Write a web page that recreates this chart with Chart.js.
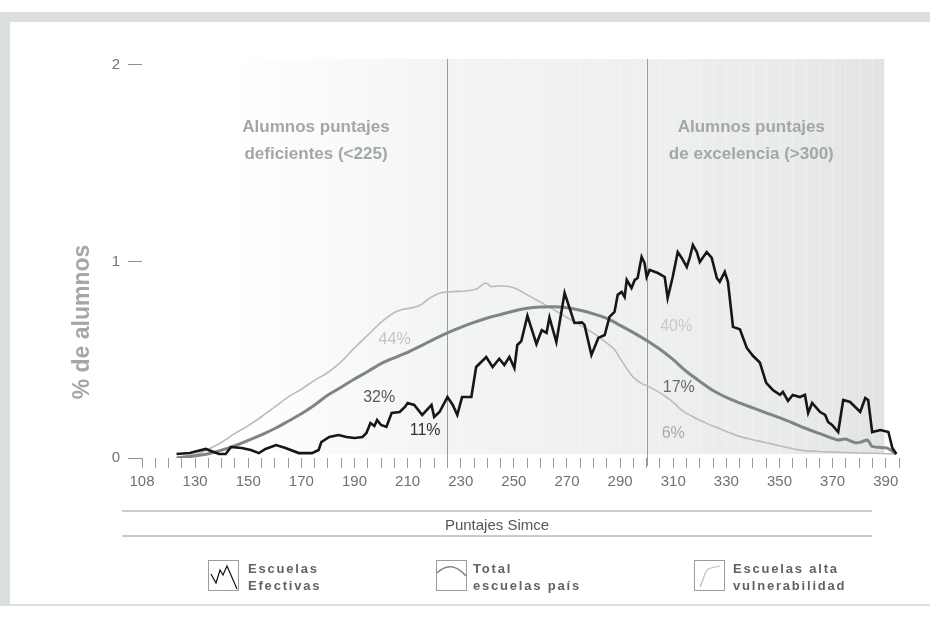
<!DOCTYPE html>
<html>
<head>
<meta charset="utf-8">
<script src="https://cdn.jsdelivr.net/npm/chart.js@4.4.1/dist/chart.umd.min.js"></script>
<style>
  html, body { margin: 0; padding: 0; background: #fff; }
  body { width: 930px; height: 628px; position: relative; overflow: hidden; font-family: "Liberation Sans", Arial, sans-serif; }
  .frame { position: absolute; left: 0; top: 12px; width: 930px; height: 594px; box-sizing: border-box;
           border-top: 10px solid #dcdfdf; border-left: 10px solid #dcdfdf; border-bottom: 2px solid #dcdfdf; }
  #chart { position: absolute; left: 0; top: 0; }
  .axis-name { position: absolute; left: 122px; top: 510px; width: 750px; height: 23px; box-sizing: content-box;
               border-top: 2px solid #cacccc; border-bottom: 2px solid #cacccc;
               text-align: center; font-size: 15px; line-height: 25px; color: #555; }
  .leg { position: absolute; top: 560px; height: 30px; }
  .leg svg { position: absolute; left: 0; top: 0; }
  .leg span { position: absolute; top: 0px; white-space: nowrap; font-weight: bold; font-size: 13px;
              letter-spacing: 1.8px; line-height: 17px; color: #5f6364; }
</style>
</head>
<body>
<div class="frame"></div>
<canvas id="chart" width="930" height="628"></canvas>
<div class="axis-name">Puntajes Simce</div>

<div class="leg" style="left:208px">
  <svg width="31" height="31"><rect x="0.5" y="0.5" width="30" height="30" fill="#fff" stroke="#9a9d9d"/>
    <polyline points="3,14 8,23 12,10 15,15 19,6 29,29" fill="none" stroke="#111" stroke-width="1.2"/></svg>
  <span style="left:40px">Escuelas<br>Efectivas</span>
</div>
<div class="leg" style="left:436px">
  <svg width="31" height="31"><rect x="0.5" y="0.5" width="30" height="30" fill="#fff" stroke="#9a9d9d"/>
    <path d="M1,13 Q15,-1 30,16" fill="none" stroke="#7f8484" stroke-width="1.5"/></svg>
  <span style="left:37px">Total<br>escuelas país</span>
</div>
<div class="leg" style="left:694px">
  <svg width="31" height="31"><rect x="0.5" y="0.5" width="30" height="30" fill="#fff" stroke="#9a9d9d"/>
    <path d="M6,27 C10,20 10,9 17,8 L26,6" fill="none" stroke="#b9bcbc" stroke-width="1.2"/></svg>
  <span style="left:39px">Escuelas alta<br>vulnerabilidad</span>
</div>

<script>
// ---- data ----
const xTickAt = [110, 130, 150, 170, 190, 210, 230, 250, 270, 290, 310, 330, 350, 370, 390];
const xTickLabels = ['108', '130', '150', '170', '190', '210', '230', '250', '270', '290', '310', '330', '350', '370', '390'];
const yTicks = [0, 1, 2];
const cutoffs = [225, 300];
const cutoffTitles = [['Alumnos puntajes', 'deficientes (<225)'], ['Alumnos puntajes', 'de excelencia (>300)']];

// Escuelas Efectivas
const efectivasX = [123, 128, 134, 136, 139, 141.5, 143.5, 147.5, 151, 154, 156.5, 160.5, 164, 169, 174, 176.5, 177.5, 180.5, 184, 187,
  190, 193, 194.5, 196, 197.5, 198.5, 200, 202, 204, 207, 209, 210, 212.5, 215.5, 219, 220, 222, 225, 227, 228.7,
  230.5, 234, 235.8, 239.6, 242, 244.5, 246.4, 248.3, 250.2, 251.3, 252.8, 255.1, 258.5, 260.5, 262.3, 263.4, 266, 269.1, 272.8, 275.6,
  276.6, 279.2, 281.8, 284.2, 286, 287.9, 289.1, 290.6, 291.7, 292.5, 294.3, 295.5, 296.6, 298.1, 299.2, 300, 301.1, 304.2, 306.8, 307.9,
  309.8, 311.7, 313.2, 315.1, 316.2, 317.4, 318.9, 320, 322.6, 324.5, 326.4, 327.5, 329.4, 330.6, 332.5, 335.1, 337.7, 340, 342.6, 345,
  347.5, 350.2, 351.3, 353.2, 355, 357.7, 359.6, 360.8, 362.3, 365.3, 367.2, 368.3, 369.8, 372.1, 374, 376.6, 380.4, 382.3, 383.4, 384.9,
  388, 391, 392.5, 394];
const efectivasY = [0.02, 0.025, 0.046, 0.036, 0.02, 0.02, 0.056, 0.051, 0.041, 0.025, 0.046, 0.066, 0.051, 0.025, 0.025, 0.041, 0.081, 0.107, 0.117, 0.107,
  0.102, 0.107, 0.127, 0.178, 0.163, 0.193, 0.168, 0.158, 0.229, 0.234, 0.26, 0.28, 0.27, 0.219, 0.27, 0.209, 0.234, 0.31, 0.27, 0.219,
  0.31, 0.31, 0.463, 0.514, 0.463, 0.505, 0.473, 0.514, 0.458, 0.575, 0.595, 0.723, 0.58, 0.65, 0.636, 0.715, 0.59, 0.84, 0.687, 0.69,
  0.677, 0.524, 0.611, 0.626, 0.718, 0.743, 0.83, 0.845, 0.819, 0.906, 0.865, 0.906, 0.916, 1.023, 0.992, 0.921, 0.957, 0.941, 0.921, 0.814,
  0.921, 1.048, 1.018, 0.972, 1.018, 1.084, 1.048, 0.997, 1.048, 1.018, 0.916, 0.896, 0.947, 0.896, 0.667, 0.655, 0.56, 0.52, 0.486, 0.382,
  0.346, 0.321, 0.336, 0.29, 0.321, 0.31, 0.321, 0.229, 0.28, 0.234, 0.219, 0.183, 0.168, 0.132, 0.295, 0.285, 0.234, 0.305, 0.295, 0.132,
  0.142, 0.132, 0.051, 0.02];

// Total escuelas país
const totalX = [123, 127, 131, 135, 140, 145, 150, 155, 160, 165, 170, 175, 180, 185, 190, 195, 200, 205, 210, 215,
  220, 225, 230, 235, 240, 245, 250, 255, 260, 265, 270, 275, 280, 285, 290, 295, 300, 305, 310, 315,
  320, 325, 330, 335, 340, 345, 350, 355, 360, 365, 370, 372, 374.7, 377, 379.2, 381.5, 383, 385, 390, 394];
const totalY = [0, 0.006, 0.013, 0.022, 0.04, 0.063, 0.09, 0.118, 0.15, 0.187, 0.225, 0.27, 0.32, 0.36, 0.402, 0.44, 0.48, 0.51, 0.538, 0.57,
  0.605, 0.637, 0.665, 0.69, 0.712, 0.73, 0.748, 0.762, 0.768, 0.769, 0.765, 0.752, 0.733, 0.71, 0.675, 0.638, 0.598, 0.553, 0.5, 0.44,
  0.39, 0.343, 0.308, 0.28, 0.255, 0.23, 0.205, 0.178, 0.15, 0.125, 0.1, 0.092, 0.097, 0.085, 0.077, 0.085, 0.092, 0.058, 0.052, 0.02];

// Escuelas alta vulnerabilidad
const vulnerX = [123, 127, 131, 135, 140, 145, 150, 155, 160, 165, 170, 175, 180, 185, 190, 195, 200, 205, 208, 212,
  215, 218, 222, 226, 232, 236, 239.6, 241.5, 245, 250, 255, 260, 265, 270, 275, 280, 285, 288, 291, 294.7,
  298, 301, 307.5, 311, 313, 317.4, 322, 326.4, 335, 340, 345, 350, 357.7, 365, 375, 385, 394];
const vulnerY = [0, 0.01, 0.022, 0.045, 0.08, 0.125, 0.165, 0.21, 0.26, 0.31, 0.35, 0.395, 0.435, 0.49, 0.56, 0.625, 0.69, 0.74, 0.755, 0.765,
  0.78, 0.81, 0.838, 0.846, 0.85, 0.86, 0.89, 0.872, 0.876, 0.866, 0.83, 0.793, 0.755, 0.715, 0.675, 0.635, 0.585, 0.55, 0.485, 0.415,
  0.38, 0.362, 0.31, 0.272, 0.245, 0.21, 0.18, 0.155, 0.11, 0.093, 0.078, 0.062, 0.04, 0.033, 0.028, 0.024, 0.02];

// share of students below 225 / above 300
const pctBelow = ['44%', '32%', '11%'];   // vulnerables, total, efectivas
const pctAbove = ['40%', '17%', '6%'];    // efectivas, total, vulnerables

const zip = (xs, ys) => xs.map((x, i) => ({ x: x, y: ys[i] }));

// where the text notes sit (data units) and how they look
const pctBelowStyle = [
  { x: 205.1, y: 0.603, color: '#c3c5c5' },
  { x: 199.3, y: 0.308, color: '#585a5a' },
  { x: 216.6, y: 0.137, color: '#333333' }
];
const pctAboveStyle = [
  { x: 311.1, y: 0.667, color: '#c8caca' },
  { x: 312.1, y: 0.356, color: '#6a6c6c' },
  { x: 310.0, y: 0.125, color: '#a9abab' }
];
const titlePos = [{ x: 175.5, y: 1.684 }, { x: 339.4, y: 1.684 }];

const chartDecor = {
  id: 'chartDecor',
  beforeDraw(chart) {
    const { ctx, chartArea, scales } = chart;
    const right = scales.x.getPixelForValue(389.5);
    const bottom = scales.y.getPixelForValue(0.02);
    const g = ctx.createLinearGradient(chartArea.left, 0, right, 0);
    g.addColorStop(0, '#ffffff');
    g.addColorStop(0.12, '#ffffff');
    g.addColorStop(0.4, '#f3f4f4');
    g.addColorStop(0.68, '#eeefef');
    g.addColorStop(0.88, '#e9eaeb');
    g.addColorStop(1, '#e1e3e4');
    ctx.save();
    ctx.fillStyle = g;
    ctx.fillRect(chartArea.left, chartArea.top, right - chartArea.left, bottom - chartArea.top);
    ctx.restore();
  },
  beforeDatasetsDraw(chart) {
    const { ctx, chartArea, scales } = chart;
    ctx.save();
    ctx.strokeStyle = '#9a9c9c';
    ctx.lineWidth = 1;
    cutoffs.forEach(c => {
      const px = Math.round(scales.x.getPixelForValue(c)) + 0.5;
      ctx.beginPath();
      ctx.moveTo(px, chartArea.top);
      ctx.lineTo(px, chartArea.bottom + 8);
      ctx.stroke();
    });
    ctx.restore();
  },
  afterDatasetsDraw(chart) {
    const { ctx, scales } = chart;
    ctx.save();
    ctx.textAlign = 'center';
    ctx.textBaseline = 'middle';

    // region titles
    ctx.font = 'bold 17px "Liberation Sans", Arial, sans-serif';
    ctx.fillStyle = '#a3a7a8';
    cutoffTitles.forEach((lines, i) => {
      const px = scales.x.getPixelForValue(titlePos[i].x);
      const py = scales.y.getPixelForValue(titlePos[i].y);
      lines.forEach((t, k) => ctx.fillText(t, px, py + k * 27));
    });

    // percentages
    ctx.font = '16px "Liberation Sans", Arial, sans-serif';
    pctBelow.forEach((t, i) => {
      const s = pctBelowStyle[i];
      ctx.fillStyle = s.color;
      ctx.fillText(t, scales.x.getPixelForValue(s.x), scales.y.getPixelForValue(s.y));
    });
    pctAbove.forEach((t, i) => {
      const s = pctAboveStyle[i];
      ctx.fillStyle = s.color;
      ctx.fillText(t, scales.x.getPixelForValue(s.x), scales.y.getPixelForValue(s.y));
    });

    // y axis name
    ctx.translate(83, 322);
    ctx.rotate(-Math.PI / 2);
    ctx.font = 'bold 23px "Liberation Sans", Arial, sans-serif';
    ctx.fillStyle = '#a3a7a8';
    ctx.fillText('% de alumnos', 0, 0);
    ctx.restore();
  }
};

new Chart(document.getElementById('chart'), {
  type: 'line',
  data: {
    datasets: [
      { label: 'Escuelas Efectivas', data: zip(efectivasX, efectivasY), borderColor: '#161616', borderWidth: 2.6,
        pointRadius: 0, tension: 0, order: 0 },
      { label: 'Total escuelas país', data: zip(totalX, totalY), borderColor: '#7f8484', borderWidth: 3,
        pointRadius: 0, cubicInterpolationMode: 'monotone', order: 1 },
      { label: 'Escuelas alta vulnerabilidad', data: zip(vulnerX, vulnerY), borderColor: '#b9bcbc', borderWidth: 1.6,
        pointRadius: 0, cubicInterpolationMode: 'monotone', order: 2 }
    ]
  },
  options: {
    responsive: false,
    animation: false,
    events: [],
    layout: { padding: { left: 0, top: 59, right: 31, bottom: 130 } },
    plugins: { legend: { display: false }, tooltip: { enabled: false } },
    scales: {
      x: {
        type: 'linear',
        min: 110,
        max: 395,
        border: { display: false },
        grid: { drawOnChartArea: true, color: 'rgba(255,255,255,0.28)', tickColor: '#9a9c9c', tickLength: 10, lineWidth: 1 },
        afterBuildTicks: (scale) => {
          const t = [];
          for (let v = 110; v <= 395; v += 5) t.push({ value: v });
          scale.ticks = t;
        },
        afterFit: (scale) => { scale.height = 40; },
        ticks: {
          autoSkip: false,
          maxRotation: 0,
          padding: 5,
          color: '#6f7272',
          font: { family: '"Liberation Sans", Arial, sans-serif', size: 15 },
          callback: (v) => {
            const i = xTickAt.indexOf(v);
            return i >= 0 ? xTickLabels[i] : '';
          }
        }
      },
      y: {
        min: 0,
        max: 2.03,
        border: { display: false },
        grid: { drawOnChartArea: false, color: '#8e9191', tickLength: 14 },
        afterBuildTicks: (scale) => { scale.ticks = yTicks.map(v => ({ value: v })); },
        afterFit: (scale) => { scale.width = 142; },
        ticks: {
          padding: 8,
          color: '#6f7272',
          font: { family: '"Liberation Sans", Arial, sans-serif', size: 15 },
          callback: (v) => String(v)
        }
      }
    }
  },
  plugins: [chartDecor]
});
</script>
</body>
</html>
